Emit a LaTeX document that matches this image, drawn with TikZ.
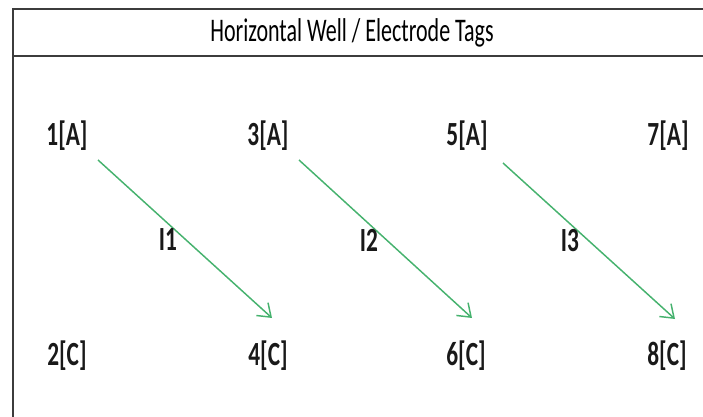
\documentclass[tikz,border=0pt]{standalone}
\usepackage{fontspec}
\usepackage{graphicx}
\setmainfont{Carlito}
\usetikzlibrary{arrows.meta}
\definecolor{wire}{RGB}{70,178,110}
\definecolor{frameline}{RGB}{60,60,60}
% tall, narrow lettering
\newcommand{\tallbold}[1]{\scalebox{1}[1.45]{\fontsize{17.5}{20}\selectfont\bfseries #1}}
\newcommand{\talltitle}[1]{\scalebox{1}[1.5]{\fontsize{16.5}{19}\selectfont #1}}
\tikzset{
  tag/.style={inner sep=0pt, text=black!90},
  current/.style={inner sep=0pt, text=black!90},
  flow/.style={draw=wire, line width=1.1pt, -{Straight Barb[length=9pt,width=13pt,line width=1.1pt]}},
  frame/.style={draw=frameline, line width=1.5pt}
}
\begin{document}
\begin{tikzpicture}[x=0.75pt,y=-0.75pt]
  \useasboundingbox (0,0) rectangle (703,417);
  % table frame
  \draw[frame] (703,9) -- (13,9) -- (13,417);
  \draw[frame] (13,56) -- (703,56);
  \node[inner sep=0pt] (title) at (352,33) {\talltitle{Horizontal Well / Electrode Tags}};
  % electrode tags
  \node[tag] (t1) at (67,136) {\tallbold{1[A]}};
  \node[tag] (t3) at (268,136) {\tallbold{3[A]}};
  \node[tag] (t5) at (467,136) {\tallbold{5[A]}};
  \node[tag] (t7) at (668,136) {\tallbold{7[A]}};
  \node[tag] (t2) at (67,356) {\tallbold{2[C]}};
  \node[tag] (t4) at (268,356) {\tallbold{4[C]}};
  \node[tag] (t6) at (466,356) {\tallbold{6[C]}};
  \node[tag] (t8) at (667,356) {\tallbold{8[C]}};
  % current paths
  \coordinate (s1) at (98,160);  \coordinate (e1) at (272,318);
  \coordinate (s2) at (299,160); \coordinate (e2) at (472,318);
  \coordinate (s3) at (503,163); \coordinate (e3) at (675,319);
  \draw[flow] (s1) -- (e1);
  \draw[flow] (s2) -- (e2);
  \draw[flow] (s3) -- (e3);
  \node[current] (i1) at (168,240) {\tallbold{I1}};
  \node[current] (i2) at (369,240) {\tallbold{I2}};
  \node[current] (i3) at (570,241) {\tallbold{I3}};
\end{tikzpicture}
\end{document}
